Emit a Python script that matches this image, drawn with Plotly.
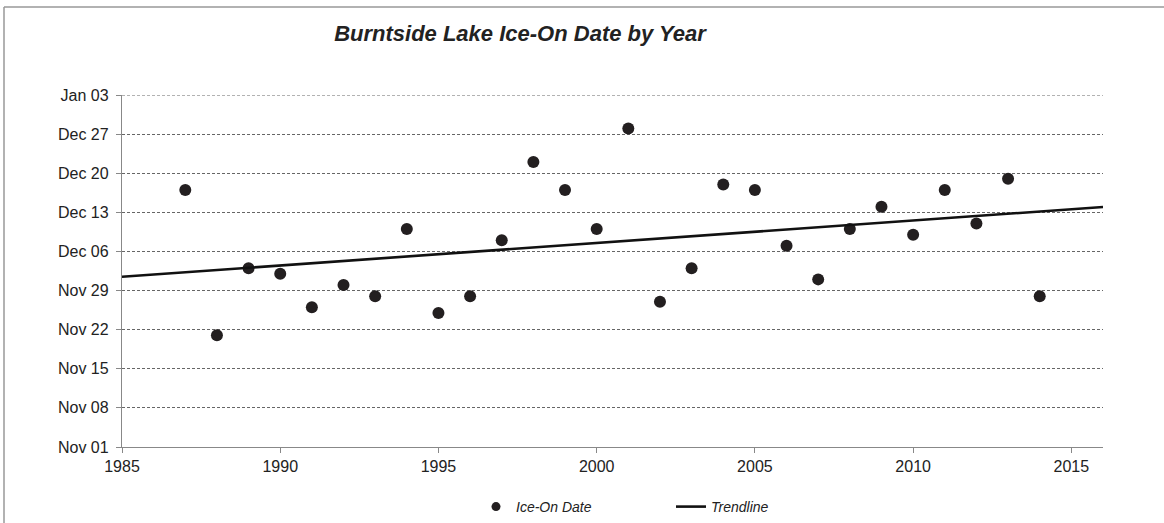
import numpy as np
import pandas as pd
import plotly.graph_objects as go

# ---- data ----
years = [1987, 1988, 1989, 1990, 1991, 1992, 1993, 1994, 1995, 1996, 1997, 1998, 1999, 2000,
         2001, 2002, 2003, 2004, 2005, 2006, 2007, 2008, 2009, 2010, 2011, 2012, 2013, 2014]
ice_on = ["Dec 17", "Nov 21", "Dec 03", "Dec 02", "Nov 26", "Nov 30", "Nov 28", "Dec 10",
          "Nov 25", "Nov 28", "Dec 08", "Dec 22", "Dec 17", "Dec 10", "Dec 28", "Nov 27",
          "Dec 03", "Dec 18", "Dec 17", "Dec 07", "Dec 01", "Dec 10", "Dec 14", "Dec 09",
          "Dec 17", "Dec 11", "Dec 19", "Nov 28"]
y_tick_labels = ["Nov 01", "Nov 08", "Nov 15", "Nov 22", "Nov 29", "Dec 06", "Dec 13",
                 "Dec 20", "Dec 27", "Jan 03"]
x_range_years = [1985, 2016]

# ---- convert to dates in a common season ----
def to_date(s):
    mon = s.split()[0]
    yr = 2001 if mon == "Jan" else 2000
    return pd.to_datetime(f"{s} {yr}", format="%b %d %Y")

dates = [to_date(s) for s in ice_on]
base = pd.Timestamp("2000-11-01")
day_num = np.array([(d - base).days for d in dates], dtype=float)
coef = np.polyfit(np.array(years, dtype=float), day_num, 1)
trend_x = np.array(x_range_years, dtype=float)
trend_days = np.polyval(coef, trend_x)
trend_y = [base + pd.Timedelta(days=float(v)) for v in trend_days]

tick_vals = [to_date(s) for s in y_tick_labels]

fig = go.Figure()
fig.add_trace(go.Scatter(
    x=years, y=dates, mode="markers", name="Ice-On Date", showlegend=False,
    legendgroup="ice", marker=dict(color="#231f20", size=12, symbol="circle"),
))
# legend entry (smaller symbol, as in the original legend)
fig.add_trace(go.Scatter(
    x=[None], y=[None], mode="markers", name="Ice-On Date", legendgroup="ice",
    marker=dict(color="#231f20", size=9, symbol="circle"),
))
fig.add_trace(go.Scatter(
    x=trend_x, y=trend_y, mode="lines", name="Trendline",
    line=dict(color="#111111", width=2.6),
))

W, H = 1164, 523
L, R, T, B = 122, 61, 95, 76
pw, ph = W - L - R, H - T - B

grid_style = dict(color="#666666", width=1, dash="3px,2px")

fig.update_layout(
    width=W, height=H,
    margin=dict(l=L, r=R, t=T, b=B, autoexpand=False),
    paper_bgcolor="white", plot_bgcolor="white",
    font=dict(family="Liberation Sans, Arial, sans-serif", color="#222222", size=14),
    title=dict(text="Burntside Lake Ice-On Date by Year",
               x=520 / W, xanchor="center", y=1 - 33 / H, yanchor="middle",
               font=dict(size=22, weight="bold", style="italic", color="#222222")),
    showlegend=True,
    legend=dict(orientation="h", x=(476 - L) / pw, xanchor="left",
                yref="container", y=1 - 507 / H, yanchor="middle",
                font=dict(size=14, style="italic", color="#222222"),
                entrywidth=150, itemwidth=30, traceorder="normal"),
    xaxis=dict(range=x_range_years, tickmode="linear", tick0=1985, dtick=5,
               showgrid=False, zeroline=False, showline=True, linecolor="#888888",
               linewidth=1.3, ticks="outside", ticklen=5, tickcolor="#888888",
               tickfont=dict(size=16, color="#222222"), automargin=False),
    yaxis=dict(type="date", range=[tick_vals[0], tick_vals[-1]],
               tickmode="array", tickvals=tick_vals, ticktext=y_tick_labels,
               showgrid=True, gridcolor=grid_style["color"], griddash=grid_style["dash"],
               gridwidth=grid_style["width"],
               zeroline=False, showline=True, linecolor="#888888", linewidth=1.3,
               ticks="outside", ticklen=5, tickcolor="#888888", ticklabelstandoff=4,
               tickfont=dict(size=16, color="#222222"), automargin=False),
    shapes=[
        # top gridline at the range edge
        dict(type="line", xref="paper", yref="y", x0=0, x1=1,
             y0=tick_vals[-1], y1=tick_vals[-1], line=grid_style, layer="below"),
        # outer chart border (left and top edges)
        dict(type="line", xref="paper", yref="paper",
             x0=(4 - L) / pw, x1=(4 - L) / pw, y0=1 + (T - 7) / ph, y1=1 - (H - T) / ph,
             line=dict(color="#999999", width=1.5)),
        dict(type="line", xref="paper", yref="paper",
             x0=(4 - L) / pw, x1=(W - L) / pw, y0=1 + (T - 7) / ph, y1=1 + (T - 7) / ph,
             line=dict(color="#999999", width=1.5)),
    ],
)

fig.write_html("out.html", config={"displayModeBar": False},
               post_script="document.body.style.margin='0';")
